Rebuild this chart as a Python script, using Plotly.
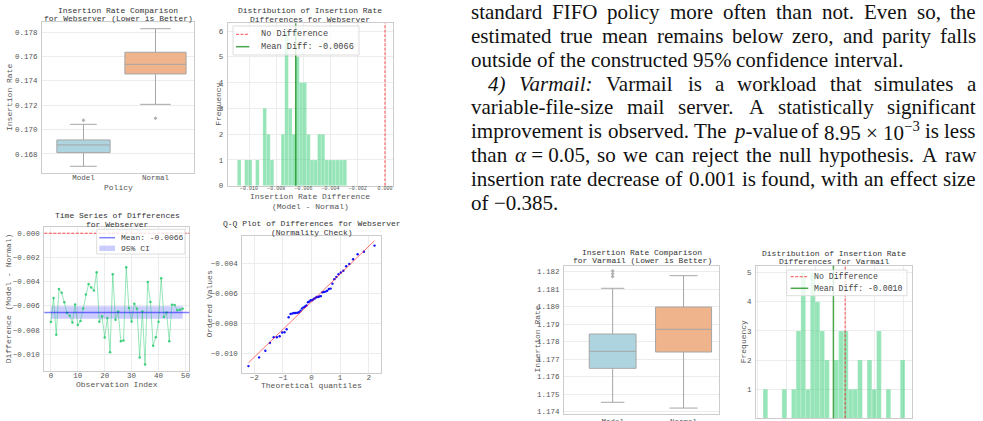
import re
from statistics import NormalDist
import numpy as np
import plotly.graph_objects as go

W, H = 983, 421
MONO = "Liberation Mono"
SERIF = "Liberation Serif"
TXT = "#555555"
TTL = "#333333"

# ---------------- data ----------------
# Webserver: per-observation differences (Model - Normal)
ws_diff = [-0.00735, -0.00536, -0.00840, -0.00462, -0.00492, -0.00572, -0.00660, -0.00682, -0.00738, -0.00589,
           -0.00760, -0.00727, -0.00622, -0.00506, -0.00420, -0.00450, -0.00473, -0.00323, -0.00732, -0.00688,
           -0.00862, -0.00702, -0.00984, -0.00340, -0.00716, -0.00647, -0.00893, -0.00887, -0.00282, -0.00619,
           -0.00730, -0.00583, -0.00625, -0.01028, -0.00647, -0.01086, -0.00404, -0.00569, -0.00931, -0.00860,
           -0.00732, -0.00373, -0.00694, -0.00655, -0.00893, -0.00591, -0.00594, -0.00638, -0.00633, -0.00625]

policies = ["Model", "Normal"]
# Webserver box statistics (insertion rate)
ws_q1 = [0.16811, 0.17456]
ws_median = [0.16874, 0.17535]
ws_q3 = [0.16915, 0.17634]
ws_lower = [0.16699, 0.17207]
ws_upper = [0.17043, 0.17827]
ws_outliers = [[0.17076], [0.17093]]

# Varmail box statistics (insertion rate)
vm_q1 = [1.17648, 1.17741]
vm_median = [1.17745, 1.17871]
vm_q3 = [1.17844, 1.17998]
vm_lower = [1.17454, 1.17421]
vm_upper = [1.18105, 1.18177]
vm_outliers = [[1.18172, 1.18188, 1.18204], []]

# Varmail differences histogram (30 bins between min and max difference)
vm_diff_min = -0.0070
vm_diff_max = 0.0051
vm_counts = [1, 0, 0, 0, 1, 0, 1, 3, 5, 1, 5, 4, 3, 2, 0, 2, 3, 3, 1, 1, 2, 0, 2, 1, 3, 0, 1, 0, 0, 2]
vm_mean_diff = -0.0010

T_CRIT = 2.0096  # t(0.975, df=49)

# ---------------- helpers ----------------
def dx(l, r):
    return [l / W, r / W]

def dy(t, b):
    return [1 - b / H, 1 - t / H]

def px(x):
    return x / W

def py(y):
    return 1 - y / H

base = dict(showline=True, mirror=True, linecolor="#cccccc", linewidth=1,
            showgrid=True, gridcolor="#ececec", gridwidth=1, zeroline=False,
            ticks="outside", ticklen=2, tickcolor="rgba(0,0,0,0)", automargin=False,
            tickfont=dict(family=MONO, size=7.5, color=TXT))
xbase = dict(ticks="", ticklabelstandoff=-3)

fig = go.Figure()
annotations = []
shapes = []

def ann(text, x, y, size=8, color=TXT, angle=0, xa="center", ya="middle", family=MONO):
    annotations.append(dict(text=text, x=px(x), y=py(y), xref="paper", yref="paper",
                            showarrow=False, xanchor=xa, yanchor=ya, textangle=angle,
                            borderpad=0, borderwidth=0,
                            font=dict(family=family, size=size, color=color)))

def pshape(**kw):
    d = dict(xref="paper", yref="paper")
    for k in ("x0", "x1"):
        if k in kw:
            kw[k] = px(kw[k])
    for k in ("y0", "y1"):
        if k in kw:
            kw[k] = py(kw[k])
    d.update(kw)
    shapes.append(d)

def legend(box, entries, size):
    x0, y0, x1, y1 = box
    pshape(type="rect", x0=x0, y0=y0, x1=x1, y1=y1, fillcolor="rgba(255,255,255,0.8)",
           line=dict(color="#dddddd", width=1))
    for e in entries:
        kind, (sx0, sx1), yc, style, text, tx = e
        if kind == "line":
            pshape(type="line", x0=sx0, x1=sx1, y0=yc, y1=yc, line=style)
        else:
            pshape(type="rect", x0=sx0, x1=sx1, y0=yc - 2.7, y1=yc + 2.7, fillcolor=style,
                   line=dict(width=0))
        ann(text, tx, yc, size=size, color="#444444", xa="left")

layout_axes = {}

def axes(n, xdom, ydom, xkw, ykw):
    xs = "xaxis" if n == 1 else f"xaxis{n}"
    ys = "yaxis" if n == 1 else f"yaxis{n}"
    xa = dict(base); xa.update(xbase); xa.update(domain=xdom, anchor=("y" if n == 1 else f"y{n}")); xa.update(xkw)
    ya = dict(base); ya.update(domain=ydom, anchor=("x" if n == 1 else f"x{n}")); ya.update(ykw)
    layout_axes[xs] = xa
    layout_axes[ys] = ya

def box_traces(xref, yref, q1, med, q3, lo, hi, outl, widths, colors):
    for i in range(2):
        fig.add_trace(go.Box(x=[i], q1=[q1[i]], median=[med[i]], q3=[q3[i]],
                             lowerfence=[lo[i]], upperfence=[hi[i]], width=widths[i],
                             fillcolor=colors[i], line=dict(color="#a6a6a6", width=1),
                             whiskerwidth=0.5, boxpoints=False, showlegend=False,
                             xaxis=xref, yaxis=yref, hoverinfo="skip"))
        if outl[i]:
            fig.add_trace(go.Scatter(x=[i] * len(outl[i]), y=outl[i], mode="markers",
                                     marker=dict(symbol="diamond", size=3, color="#b0b0b0"),
                                     showlegend=False, xaxis=xref, yaxis=yref))

BOX_COLORS = ["#aed4e0", "#efb48b"]
GREEN_BAR = "rgba(46,204,113,0.5)"
RED = "rgba(255,0,0,0.7)"
RED_DASH = dict(color=RED, width=1, dash="3px,1.5px")
MEAN_GREEN = "rgba(0,128,0,0.7)"
BLUE_MEAN = "rgba(0,0,255,0.5)"
BLUE_CI = "rgba(0,0,255,0.2)"

ws = np.array(ws_diff)
ws_mean = ws.mean()
ws_sd = ws.std(ddof=1)
ws_ci = T_CRIT * ws_sd / np.sqrt(len(ws))

# ---------- P1: webserver box ----------
axes(1, dx(42, 194), dy(22, 173),
     dict(range=[-0.576, 1.535], tickvals=[0, 1], ticktext=policies, showgrid=False),
     dict(range=[0.16644, 0.17882], tickvals=[0.168, 0.170, 0.172, 0.174, 0.176, 0.178], tickformat=".3f"))
box_traces("x", "y", ws_q1, ws_median, ws_q3, ws_lower, ws_upper, ws_outliers, [0.74, 0.85], BOX_COLORS)
ann("Insertion Rate Comparison", 118, 10.3, color=TTL)
ann("for Webserver (Lower is Better)", 118, 18.5, color=TTL)
ann("Policy", 118, 187.5)
ann("Insertion Rate", 9.5, 97.5, angle=-90)

# ---------- P2: webserver histogram ----------
counts, edges = np.histogram(ws, bins=30)
centers = (edges[:-1] + edges[1:]) / 2
axes(2, dx(227.7, 392.7), dy(23.3, 185.7),
     dict(range=[-0.01157, 0.000566], tickvals=[-0.010, -0.008, -0.006, -0.004, -0.002, 0.0], tickformat=".3f",
          tickfont=dict(family=MONO, size=5, color=TXT)),
     dict(range=[0, 6.3], dtick=1))
fig.add_trace(go.Bar(x=centers, y=counts, width=edges[1] - edges[0], marker=dict(color=GREEN_BAR,
                     line=dict(color="rgba(255,255,255,0.5)", width=0.4)),
                     showlegend=False, xaxis="x2", yaxis="y2"))
shapes.append(dict(type="line", xref="x2", yref="y2 domain", x0=0, x1=0, y0=0, y1=1, line=RED_DASH))
shapes.append(dict(type="line", xref="x2", yref="y2 domain", x0=ws_mean, x1=ws_mean, y0=0, y1=1,
                   line=dict(color=MEAN_GREEN, width=1.5)))
legend((233, 26, 359, 55),
       [("line", (236, 249.3), 34.3, RED_DASH, "No Difference", 260.7),
        ("line", (236, 249.3), 46.7, dict(color=MEAN_GREEN, width=1.5), f"Mean Diff: {ws_mean:.4f}", 260.7)],
       8.6)
ann("Distribution of Insertion Rate", 310, 10.5, color=TTL)
ann("Differences for Webserver", 310, 19, color=TTL)
ann("Insertion Rate Difference", 310, 196.5)
ann("(Model - Normal)", 310, 206)
ann("Frequency", 218.3, 104.5, angle=-90)

# ---------- P3: time series ----------
idx = list(range(len(ws_diff)))
axes(3, dx(44.3, 189.3), dy(226.7, 371),
     dict(range=[-2.45, 51.45], dtick=10),
     dict(range=[-0.0114, 0.00054], tickvals=[-0.010, -0.008, -0.006, -0.004, -0.002, 0.0], tickformat=".3f"))
fig.add_trace(go.Scatter(x=idx + idx[::-1], y=[ws_mean + ws_ci] * len(idx) + [ws_mean - ws_ci] * len(idx),
                         fill="toself", fillcolor=BLUE_CI, mode="none", showlegend=False,
                         xaxis="x3", yaxis="y3"))
fig.add_trace(go.Scatter(x=idx, y=ws_diff, mode="lines+markers",
                         line=dict(color="rgba(46,204,113,0.5)", width=1),
                         marker=dict(color="rgba(46,204,113,0.9)", size=2.5),
                         showlegend=False, xaxis="x3", yaxis="y3"))
shapes.append(dict(type="line", xref="x3 domain", yref="y3", x0=0, x1=1, y0=0, y1=0, line=RED_DASH))
shapes.append(dict(type="line", xref="x3 domain", yref="y3", x0=0, x1=1, y0=ws_mean, y1=ws_mean,
                   line=dict(color=BLUE_MEAN, width=1.5)))
legend((96.7, 229.3, 185, 254),
       [("line", (99.3, 115), 237.7, dict(color=BLUE_MEAN, width=1.5), f"Mean: {ws_mean:.4f}", 120.7),
        ("rect", (99.3, 115), 248.3, BLUE_CI, "95% CI", 120.7)],
       8)
ann("Time Series of Differences", 117, 215.6, color=TTL)
ann("for Webserver", 117, 224, color=TTL)
ann("Observation Index", 117, 384.3)
ann("Difference (Model - Normal)", 8.5, 298.8, angle=-90)

# ---------- P4: Q-Q plot ----------
n = len(ws_diff)
mlast = 0.5 ** (1.0 / n)
probs = [1 - mlast] + [(i - 0.3175) / (n + 0.365) for i in range(2, n)] + [mlast]
osm = np.array([NormalDist().inv_cdf(p) for p in probs])
osr = np.sort(ws)
slope, intercept = np.polyfit(osm, osr, 1)
axes(4, dx(242.3, 380.7), dy(235.7, 372.7),
     dict(range=[-2.42, 2.42], dtick=1),
     dict(range=[-0.0113, -0.00216], tickvals=[-0.010, -0.008, -0.006, -0.004], tickformat=".3f"))
fig.add_trace(go.Scatter(x=osm, y=osr, mode="markers", marker=dict(color="#1010ff", size=2.4),
                         showlegend=False, xaxis="x4", yaxis="y4"))
fig.add_trace(go.Scatter(x=osm, y=slope * osm + intercept, mode="lines",
                         line=dict(color="rgba(255,0,0,0.55)", width=1),
                         showlegend=False, xaxis="x4", yaxis="y4"))
ann("Q-Q Plot of Differences for Webserver", 311.5, 223.8, color=TTL)
ann("(Normality Check)", 311.5, 232.2, color=TTL)
ann("Theoretical quantiles", 311.5, 385.5)
ann("Ordered Values", 209.3, 304.2, angle=-90)

# ---------- P5: varmail box ----------
axes(5, dx(564, 719.3), dy(265.7, 413.5),
     dict(range=[-0.686, 1.504], tickvals=[0, 1], ticktext=policies, showgrid=False, ticklabelstandoff=0),
     dict(range=[1.1739, 1.18234], dtick=0.001, tickformat=".3f"))
box_traces("x5", "y5", vm_q1, vm_median, vm_q3, vm_lower, vm_upper, vm_outliers, [0.66, 0.79], BOX_COLORS)
ann("Insertion Rate Comparison", 642, 252.5, color=TTL)
ann("for Varmail (Lower is Better)", 642, 260.5, color=TTL)
ann("Insertion Rate", 538, 339.6, angle=-90)

# ---------- P6: varmail histogram ----------
vm_edges = np.linspace(vm_diff_min, vm_diff_max, len(vm_counts) + 1)
vm_centers = (vm_edges[:-1] + vm_edges[1:]) / 2
axes(6, dx(756, 912), dy(265.7, 418.3),
     dict(range=[-0.0076, 0.0057], dtick=0.0025),
     dict(range=[0, 5.24], dtick=1))
fig.add_trace(go.Bar(x=vm_centers, y=vm_counts, width=vm_edges[1] - vm_edges[0],
                     marker=dict(color=GREEN_BAR, line=dict(color="rgba(255,255,255,0.5)", width=0.4)),
                     showlegend=False, xaxis="x6", yaxis="y6"))
shapes.append(dict(type="line", xref="x6", yref="y6 domain", x0=0, x1=0, y0=0, y1=1, line=RED_DASH))
shapes.append(dict(type="line", xref="x6", yref="y6 domain", x0=vm_mean_diff, x1=vm_mean_diff, y0=0, y1=1,
                   line=dict(color=MEAN_GREEN, width=1.5)))
legend((786.7, 270, 907, 295.7),
       [("line", (790.7, 808.3), 276.7, RED_DASH, "No Difference", 814),
        ("line", (790.7, 808.3), 288.3, dict(color=MEAN_GREEN, width=1.5), f"Mean Diff: {vm_mean_diff:.4f}", 814)],
       8.2)
ann("Distribution of Insertion Rate", 834, 253, color=TTL)
ann("Differences for Varmail", 834, 261.3, color=TTL)
ann("Frequency", 743.3, 342, angle=-90)

# ---------------- paragraph text (justified) ----------------
TIMES = {" ": 250, "!": 333, "%": 833, "(": 333, ")": 333, ",": 250, "-": 333, ".": 250, ":": 278,
         "=": 564, "×": 564, "−": 564, "α": 520}
for ch in "0123456789":
    TIMES[ch] = 500
TIMES.update(dict(zip("ABCDEFGHIJKLMNOPQRSTUVWXYZ",
                      [722, 667, 667, 722, 611, 556, 722, 722, 333, 389, 722, 611, 889, 722, 722, 556, 722, 667,
                       556, 611, 722, 722, 944, 722, 722, 611])))
TIMES.update(dict(zip("abcdefghijklmnopqrstuvwxyz",
                      [444, 500, 444, 500, 444, 333, 500, 500, 278, 278, 500, 278, 778, 500, 500, 500, 500, 333,
                       389, 278, 500, 500, 722, 500, 500, 444])))

FS = 21.0

def plain_w(s, size):
    return sum(TIMES.get(c, 500) for c in s) / 1000.0 * size

def token_w(tok, size):
    total = 0.0
    for part in re.split(r"(<sup>.*?</sup>)", tok):
        if part.startswith("<sup>"):
            total += plain_w(re.sub(r"<[^>]+>", "", part), size * 0.7)
        else:
            total += plain_w(re.sub(r"<[^>]+>", "", part), size)
    return total

para_lines = [
    ("standard FIFO policy more often than not. Even so, the", True, 0),
    ("estimated true mean remains below zero, and parity falls", True, 0),
    ("outside of the constructed 95% confidence interval.", False, 0),
    ("<i>4)</i> <i>Varmail:</i> Varmail is a workload that simulates a", True, 17),
    ("variable-file-size mail server. A statistically significant", True, 0),
    ("improvement is observed. The <i>p</i>-value of 8.95~×~10<sup>−3</sup> is less", True, 0),
    ("than <i>α</i>~=~0.05, so we can reject the null hypothesis. A raw", True, 0),
    ("insertion rate decrease of 0.001 is found, with an effect size", True, 0),
    ("of −0.385.", False, 0),
]
TX_L, TX_R = 471.0, 976.0
Y0, DY = 14.5, 23.8
for k, (line, justify, indent) in enumerate(para_lines):
    toks = [t.replace("~", " ") for t in line.split(" ")]
    widths = [token_w(t, FS) for t in toks]
    left = TX_L + indent
    if justify and len(toks) > 1:
        gap = (TX_R - left - sum(widths)) / (len(toks) - 1)
    else:
        gap = TIMES[" "] / 1000.0 * FS
    x = left
    yc = Y0 + DY * k - 2.3
    for t, w in zip(toks, widths):
        ann(t, x, yc, size=FS, color="#111111", xa="left", family=SERIF)
        x += w + gap

fig.update_layout(
    width=W, height=H, margin=dict(l=0, r=0, t=0, b=0),
    paper_bgcolor="white", plot_bgcolor="white",
    showlegend=False, annotations=annotations, shapes=shapes,
    **layout_axes,
)

fig.write_html("out.html")
